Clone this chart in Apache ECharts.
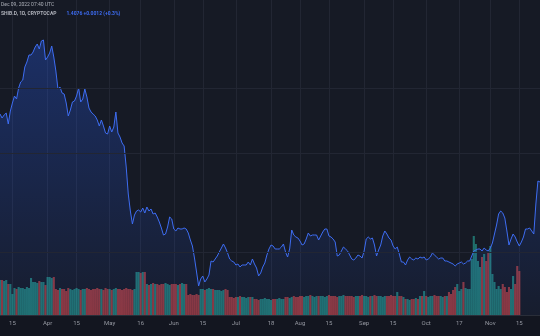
<!DOCTYPE html>
<html>
<head>
<meta charset="utf-8">
<script src="https://cdn.jsdelivr.net/npm/echarts@6/dist/echarts.min.js"></script>
<style>
html,body{margin:0;padding:0;background:#161a25;}
#c{width:540px;height:336px;}
</style>
</head>
<body>
<div id="c"></div>
<script>
// ---- DATA (daily, starting 2022-03-09) ----
const startDate = '2022-03-09';
const price = [
2.01,1.97,2.00,2.02,1.91,2.04,2.12,2.19,2.16,2.27,2.33,2.35,2.48,2.53,2.60,2.60,2.63,2.68,2.71,2.66,
2.74,2.75,2.55,2.58,2.62,2.69,2.58,2.44,2.26,2.28,2.22,2.21,2.12,1.99,2.05,2.13,2.14,2.19,2.27,2.13,
2.16,2.26,2.18,2.07,2.03,2.01,1.99,1.95,1.89,1.95,1.89,1.82,1.81,1.89,1.83,1.88,2.03,1.82,1.78,1.72,
1.69,1.48,1.21,1.04,0.91,1.00,1.04,1.05,1.03,1.07,1.02,1.08,1.04,1.06,1.01,1.02,0.98,0.93,0.87,0.80,
0.81,0.88,0.98,0.96,0.86,0.84,0.87,0.86,0.86,0.87,0.86,0.82,0.75,0.69,0.57,0.43,0.29,0.36,0.39,0.33,
0.36,0.40,0.54,0.53,0.56,0.59,0.63,0.67,0.71,0.67,0.62,0.56,0.54,0.53,0.50,0.51,0.48,0.50,0.50,0.50,
0.53,0.50,0.56,0.51,0.47,0.39,0.42,0.48,0.52,0.60,0.66,0.70,0.69,0.66,0.66,0.66,0.68,0.71,0.63,0.58,
0.66,0.85,0.80,0.78,0.77,0.74,0.70,0.71,0.76,0.82,0.79,0.80,0.80,0.80,0.75,0.79,0.83,0.86,0.86,0.79,
0.78,0.76,0.73,0.59,0.60,0.64,0.68,0.66,0.64,0.60,0.56,0.55,0.57,0.60,0.59,0.57,0.64,0.76,0.78,0.76,
0.77,0.70,0.59,0.65,0.70,0.79,0.84,0.81,0.77,0.75,0.69,0.66,0.68,0.61,0.53,0.53,0.50,0.55,0.58,0.56,
0.55,0.57,0.56,0.58,0.57,0.58,0.55,0.56,0.58,0.62,0.60,0.58,0.56,0.57,0.57,0.54,0.54,0.53,0.52,0.51,
0.49,0.51,0.52,0.53,0.51,0.52,0.54,0.54,0.59,0.64,0.65,0.66,0.66,0.64,0.67,0.65,0.64,0.67,0.72,0.81,
0.90,1.01,1.04,1.02,0.97,0.84,0.70,0.76,0.81,0.78,0.73,0.69,0.73,0.78,0.86,0.86,0.87,0.84,0.81,1.11,
1.34,1.33
];
const volume = [
35,35,34,35,31,31,21,27,26,28,27,27,26,28,27,37,33,33,32,34,
33,33,30,38,38,37,38,26,25,27,26,26,24,27,26,25,26,27,26,25,
26,26,27,26,25,26,26,27,26,26,25,27,26,26,25,26,27,26,26,25,
26,27,26,26,25,26,43,43,42,43,43,31,30,31,32,31,31,30,31,31,
32,31,30,31,31,31,30,31,32,31,31,20,21,20,20,21,20,26,26,25,
26,27,26,26,25,25,25,24,25,26,25,18,18,17,18,18,19,18,18,17,
18,18,18,16,16,15,16,16,17,16,16,15,16,16,16,17,16,16,18,18,
17,18,19,18,18,19,19,18,19,19,20,19,18,19,19,19,19,18,19,20,
19,19,19,18,19,19,20,19,19,19,19,18,19,19,19,20,19,19,18,19,
19,20,19,19,19,18,19,19,19,20,19,19,23,19,19,18,16,16,15,16,
16,17,16,19,19,24,19,18,19,19,20,19,19,19,18,19,19,23,21,25,
28,31,24,26,33,27,26,26,56,79,71,54,48,58,61,54,63,69,41,33,
26,29,26,31,28,23,28,26,39,31,49,44
];
const tickLabels = [
  ['2022-03-15','15'],['2022-04-01','Apr'],['2022-04-15','15'],['2022-05-01','May'],
  ['2022-05-16','16'],['2022-06-01','Jun'],['2022-06-15','15'],['2022-07-01','Jul'],
  ['2022-07-18','18'],['2022-08-01','Aug'],['2022-08-15','15'],['2022-09-01','Sep'],
  ['2022-09-15','15'],['2022-10-01','Oct'],['2022-10-17','17'],['2022-11-01','Nov'],
  ['2022-11-15','15']
];
const gridLevels = [2.27, 1.62, 0.63];
const headerLine1 = 'Dec 09, 2022 07:40 UTC';
const headerSymbol = 'SHIB.D, 1D, CRYPTOCAP';
const headerQuote = '1.4076 +0.0012 (+0.3%)';

// ---- build ----
const categories = [];
(function(){
  const d0 = new Date(startDate + 'T00:00:00Z');
  for (let i = 0; i < price.length; i++) {
    const d = new Date(d0.getTime() + i * 86400000);
    categories.push(d.toISOString().slice(0,10));
  }
})();
const labelMap = {};
tickLabels.forEach(t => labelMap[t[0]] = t[1]);
const showTick = (idx, val) => labelMap[categories[idx]] !== undefined;

const volData = volume.map((v, i) => ({
  value: v,
  itemStyle: { color: (i > 0 && price[i] < price[i-1]) ? 'rgba(214,72,72,0.62)' : 'rgba(38,166,154,0.62)' }
}));

const chart = echarts.init(document.getElementById('c'), null, {renderer: 'canvas'});
chart.setOption({
  backgroundColor: '#161a25',
  animation: false,
  graphic: [
    { type: 'rect', left: 0, bottom: 0, shape: { width: 540, height: 21 }, style: { fill: '#131620' }, z: -10 }
  ],
  title: [
    { text: headerLine1, left: 1, top: 2, padding: 0,
      textStyle: { color: '#aeb1ba', fontSize: 5, lineHeight: 6, fontWeight: 'normal', fontFamily: 'Roboto' } },
    { text: '{a|' + headerSymbol + '}  {b|' + headerQuote + '}', left: 1, top: 11, padding: 0,
      textStyle: { lineHeight: 6, rich: {
        a: { color: '#aeb1ba', fontSize: 5, lineHeight: 6, fontFamily: 'Roboto' },
        b: { color: '#3d6cf2', fontSize: 5, lineHeight: 6, fontFamily: 'Roboto' }
      } } }
  ],
  grid: { left: 0, right: 0, top: 0, bottom: 21, containLabel: false },
  xAxis: {
    type: 'category',
    data: categories,
    boundaryGap: false,
    axisLine: { show: true, lineStyle: { color: '#2a2e39', width: 1 } },
    axisTick: { show: false },
    axisLabel: {
      interval: showTick,
      formatter: v => labelMap[v] || '',
      color: '#9598a1', fontSize: 6, margin: 5, fontFamily: 'Roboto'
    },
    splitLine: { show: true, interval: showTick, lineStyle: { color: '#222633', width: 1 } }
  },
  yAxis: [
    { type: 'value', min: 0, max: 3.15, show: false, splitLine: { show: false } },
    { type: 'value', min: 0, max: 315, show: false, splitLine: { show: false } }
  ],
  series: [
    {
      type: 'bar', yAxisIndex: 1, data: volData,
      barCategoryGap: '0%', barWidth: 2.1, z: 1, silent: true
    },
    {
      type: 'line', yAxisIndex: 0, data: price,
      symbol: 'none', smooth: false, z: 3,
      lineStyle: { color: '#3e6df2', width: 1 },
      areaStyle: {
        origin: 'start',
        color: new echarts.graphic.LinearGradient(0, 0, 0, 1, [
          { offset: 0, color: 'rgba(41,98,255,0.42)' },
          { offset: 1, color: 'rgba(41,98,255,0.06)' }
        ])
      },
      markLine: {
        silent: true, symbol: 'none', label: { show: false },
        lineStyle: { color: '#222633', type: 'solid', width: 1 },
        data: gridLevels.map(v => ({ yAxis: v }))
      }
    }
  ]
});
</script>
</body>
</html>
